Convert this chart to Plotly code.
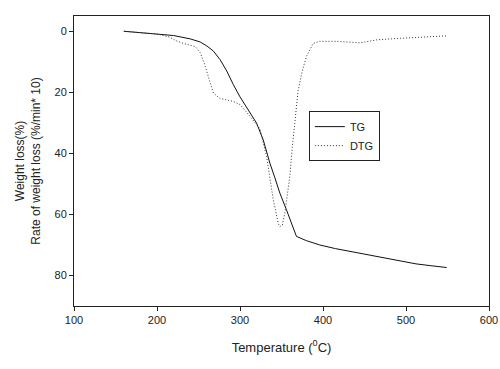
import plotly.graph_objects as go

tg_temp = [160, 180, 200, 220, 240, 252, 260, 268, 276, 284, 292, 300, 310, 320, 328, 336,
           342, 348, 356, 362, 368, 380, 396, 415, 432, 452, 472, 492, 512, 530, 549]
tg_loss = [0, 0.4, 0.8, 1.4, 2.5, 3.5, 4.8, 6.5, 9.3, 13, 17.5, 21.5, 25.8, 30.1, 35.6, 43.2,
           48, 53, 58.5, 63, 67.2, 68.6, 70, 71.2, 72.1, 73.2, 74.3, 75.3, 76.2, 76.8, 77.4]

dtg_temp = [160, 180, 200, 215, 222, 232, 246, 252, 257, 262, 268, 276, 292, 300, 312, 324,
            332, 340, 346, 348, 351, 354, 357, 360, 363, 366, 370, 375, 380, 388, 396, 416,
            435, 445, 455, 465, 493, 520, 549]
dtg_rate = [0, 0.4, 0.9, 1.9, 3, 4, 5, 7, 10.5, 15, 20.3, 22, 23, 24, 27.8, 32,
            41, 55, 62.9, 64, 63.5, 59.6, 54, 47.6, 38, 30, 19.5, 13, 8.3, 4, 3.3, 3.3,
            3.6, 3.8, 3.3, 2.8, 2.3, 1.9, 1.5]

x_ticks = [100, 200, 300, 400, 500, 600]
y_ticks = [0, 20, 40, 60, 80]

font = "Liberation Sans, Arial, sans-serif"
ink = "#222222"

fig = go.Figure()
fig.add_trace(go.Scatter(x=tg_temp, y=tg_loss, mode="lines", name="TG",
                         line=dict(color="#111111", width=1)))
fig.add_trace(go.Scatter(x=dtg_temp, y=dtg_rate, mode="lines", name="DTG",
                         line=dict(color="#333333", width=1, dash="1px,2px")))

fig.update_layout(
    template="none",
    width=500, height=369,
    margin=dict(l=74, r=11, t=16, b=63),
    paper_bgcolor="white", plot_bgcolor="white",
    font=dict(family=font, size=12, color=ink),
    showlegend=True,
    legend=dict(x=0.566, y=0.672, xanchor="left", yanchor="top",
                bordercolor=ink, borderwidth=1, bgcolor="white",
                font=dict(size=11, color=ink), tracegroupgap=0),
    xaxis=dict(range=[100, 600], tickvals=x_ticks, ticks="outside", ticklen=4,
               tickcolor=ink, showline=True, linecolor=ink, linewidth=1,
               mirror=True, showgrid=False, zeroline=False,
               tickfont=dict(size=11, color=ink),
               title=dict(text="Temperature (<sup>0</sup>C)",
                          font=dict(size=13, color=ink), standoff=17)),
    yaxis=dict(range=[90, -5], tickvals=y_ticks, ticks="outside", ticklen=4,
               tickcolor=ink, showline=True, linecolor=ink, linewidth=1,
               mirror=True, showgrid=False, zeroline=False,
               tickfont=dict(size=11, color=ink),
               title=dict(text="Weight loss(%)<br>Rate of weight loss (%/min* 10)",
                          font=dict(size=12, color=ink), standoff=11)),
)

fig.write_html("out.html", config={"displayModeBar": False},
               post_script="document.body.style.margin='0px';")
